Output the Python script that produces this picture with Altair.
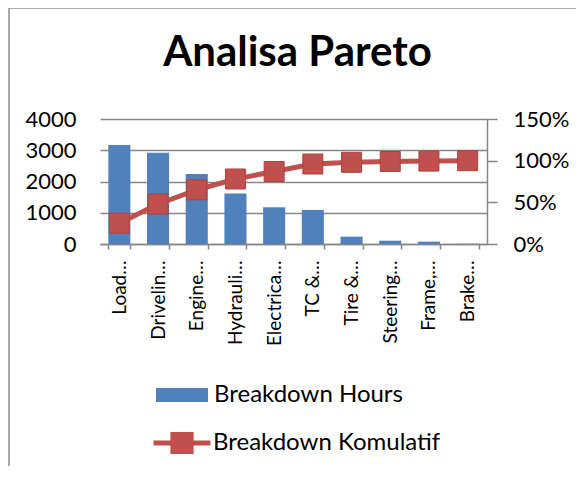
import altair as alt
import pandas as pd

categories = ["Load…", "Drivelin…", "Engine…", "Hydrauli…", "Electrica…",
              "TC &…", "Tire &…", "Steering…", "Frame,…", "Brake…"]
hours = [3170, 2920, 2240, 1620, 1175, 1090, 235, 105, 75, 5]
cum_pct = [0.25, 0.48, 0.65, 0.78, 0.87, 0.96, 0.98, 0.99, 0.995, 1.0]
series_names = ["Breakdown Hours", "Breakdown Komulatif"]
left_ticks = [0, 1000, 2000, 3000, 4000]
right_ticks = [0, 0.5, 1.0, 1.5]

BLUE = "#4F81BD"
RED = "#C0504D"
GRAY = "#868686"
FONT = "Lato"

df = pd.DataFrame({"cat": categories, "hours": hours, "cum": cum_pct})
df["s1"] = series_names[0]
df["s2"] = series_names[1]

base = alt.Chart(df)

x_enc = alt.X("cat:N", sort=categories, title=None,
              scale=alt.Scale(paddingInner=0.43, paddingOuter=0.215),
              axis=alt.Axis(labelAngle=270, labelFont=FONT, labelFontSize=19,
                            labelColor="black", domainColor=GRAY, domainWidth=1.5,
                            tickColor=GRAY, tickSize=5, tickWidth=1.5,
                            tickBand="extent", labelPadding=11))

bars = base.mark_bar(color=BLUE).encode(
    x=x_enc,
    y=alt.Y("hours:Q", title=None,
            scale=alt.Scale(domain=[0, 4000], nice=False),
            axis=alt.Axis(values=left_ticks, format=".0f", domain=False, ticks=False,
                          grid=True, gridColor=GRAY, gridWidth=1.5,
                          labelFont=FONT, labelFontSize=22, labelColor="black",
                          labelPadding=24)),
    fill=alt.Fill("s1:N", scale=alt.Scale(domain=[series_names[0]], range=[BLUE]),
                  legend=alt.Legend(title=None, orient="none", legendX=56, legendY=250,
                                    symbolType="M-1,-0.27L1,-0.27L1,0.27L-1,0.27Z",
                                    symbolSize=2704, symbolStrokeWidth=0,
                                    labelFont=FONT, labelFontSize=24, labelLimit=400,
                                    labelColor="black", labelOffset=6)),
)

y_right = alt.Y("cum:Q", title=None,
                scale=alt.Scale(domain=[0, 1.5], nice=False),
                axis=alt.Axis(orient="right", values=right_ticks, format=".0%",
                              grid=False, domainColor=GRAY, domainWidth=1.5,
                              tickColor=GRAY, tickSize=10, tickWidth=1.5,
                              labelFont=FONT, labelFontSize=22, labelColor="black",
                              labelPadding=16))

line = base.mark_line(strokeWidth=5).encode(
    x=alt.X("cat:N", sort=categories),
    y=y_right,
    stroke=alt.Stroke("s2:N", scale=alt.Scale(domain=[series_names[1]], range=[RED]),
                      legend=alt.Legend(title=None, orient="none", legendX=51, legendY=293,
                                        symbolType="M-1,0L1,0M-0.32,-0.3L0.32,-0.3L0.32,0.3L-0.32,0.3Z",
                                        symbolSize=3249, symbolStrokeWidth=5,
                                        symbolFillColor=RED,
                                        labelFont=FONT, labelFontSize=24, labelLimit=400,
                                        labelColor="black", labelOffset=0)),
)

points = base.mark_point(shape="square", filled=True, size=400, opacity=1,
                         color=RED, stroke="#B0403D", strokeWidth=1).encode(
    x=alt.X("cat:N", sort=categories),
    y=y_right,
)

border_data = alt.Data(values=[{"k": 1}])
border_left = alt.Chart(border_data).mark_rule(color="#8C8C8C", strokeWidth=1.5).encode(
    x=alt.value(-91), y=alt.value(-111), y2=alt.value(360))
border_top = alt.Chart(border_data).mark_rule(color="#8C8C8C", strokeWidth=1.5).encode(
    x=alt.value(-91), x2=alt.value(480), y=alt.value(-111))

right_layer = alt.layer(line, points)

chart = alt.layer(bars, right_layer, border_left, border_top).resolve_scale(
    y="independent", fill="independent", stroke="independent"
).properties(
    width=387, height=125,
    title=alt.TitleParams("Analisa Pareto", font=FONT, fontSize=42,
                          fontWeight="bold", color="black", anchor="middle",
                          baseline="alphabetic", offset=-101, dx=4),
    autosize=alt.AutoSizeParams(type="none"),
    padding={"left": 92, "top": 111, "right": 89, "bottom": 222},
).configure_view(stroke=None)

chart.save("out.html", embed_options={"renderer": "svg", "actions": False})
